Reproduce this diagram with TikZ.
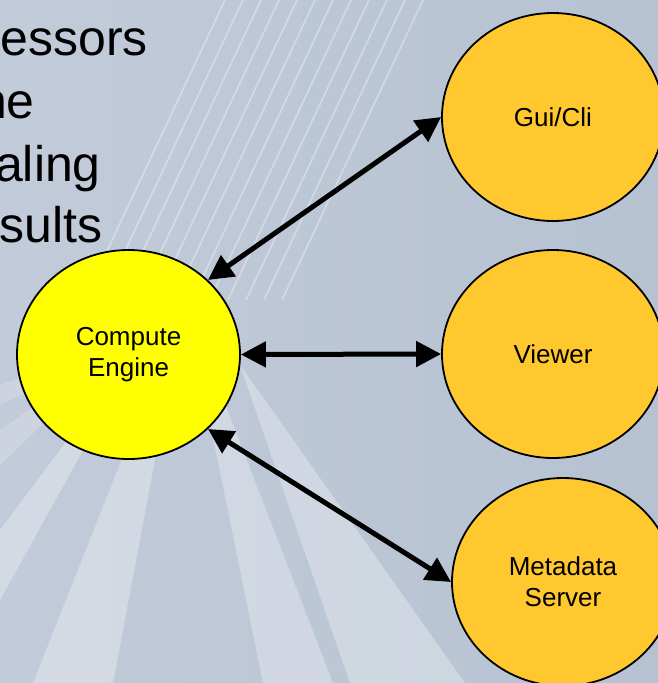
\documentclass[tikz,border=0pt]{standalone}
\usepackage{fontspec}
\setmainfont{Liberation Sans}
\usetikzlibrary{arrows.meta,shapes.geometric}

\definecolor{bgbase}{RGB}{182,194,210}
\definecolor{bglight}{RGB}{194,203,217}
\definecolor{engineyellow}{RGB}{255,255,0}
\definecolor{serviceorange}{RGB}{254,200,46}

\begin{document}
\begin{tikzpicture}[x=1pt,y=-1pt,
  nodebase/.style={ellipse, draw=black, line width=1.8pt, inner sep=0pt,
    align=center, font=\fontsize{26}{31}\selectfont},
  engine/.style={nodebase, fill=engineyellow, minimum width=223pt, minimum height=209pt},
  service/.style={nodebase, fill=serviceorange, minimum width=222pt, minimum height=208pt},
  link/.style={line width=5pt,
    {Triangle[length=25pt,width=25pt]}-{Triangle[length=25pt,width=25pt]}},
  ray/.style={fill=white, opacity=0.3},
  faintray/.style={fill=white, opacity=0.18},
  streak/.style={draw=white, opacity=0.32, line width=1.8pt},
  slidetext/.style={anchor=base east, inner sep=0pt, font=\fontsize{50}{60}\selectfont}
]
\useasboundingbox (0,0) rectangle (658,683);
\clip (0,0) rectangle (658,683);

% slide background
\shade[left color=bglight, right color=bgbase] (0,0) rectangle (658,683);

% light rays fanning out below the engine
\fill[ray] (185,300) -- (33,683) -- (113,683) -- cycle;
\fill[ray] (185,300) -- (263,683) -- (333,683) -- cycle;
\fill[ray] (240,365) -- (350,683) -- (465,683) -- cycle;
\fill[ray] (150,330) -- (0,530) -- (0,600) -- cycle;
\fill[faintray] (130,340) -- (0,385) -- (0,405) -- cycle;
\fill[faintray] (130,340) -- (0,430) -- (0,465) -- cycle;

% thin diagonal streaks in the upper area
\foreach \x in {225,243,...,425} {
  \draw[streak] (\x,0) -- (\x-141,300);
}

% slide text lines
\node[slidetext] (t1) at (148,55) {essors};
\node[slidetext] (t2) at (35,118) {ne};
\node[slidetext] (t3) at (101,181) {aling};
\node[slidetext] (t4) at (103,242) {sults};

% components
\node[engine] (ce) at (128.5,354.5) {Compute\\Engine};
\node[service] (gui) at (553,117) {Gui/Cli};
\node[service] (viewer) at (553,354) {Viewer};
\node[service] (meta) at (563,582) {Metadata\\Server};

% connections
\draw[link] (ce.north east) -- (gui.west);
\draw[link] (ce.east) -- (viewer.west);
\draw[link] (ce.south east) -- (meta.west);
\end{tikzpicture}
\end{document}
